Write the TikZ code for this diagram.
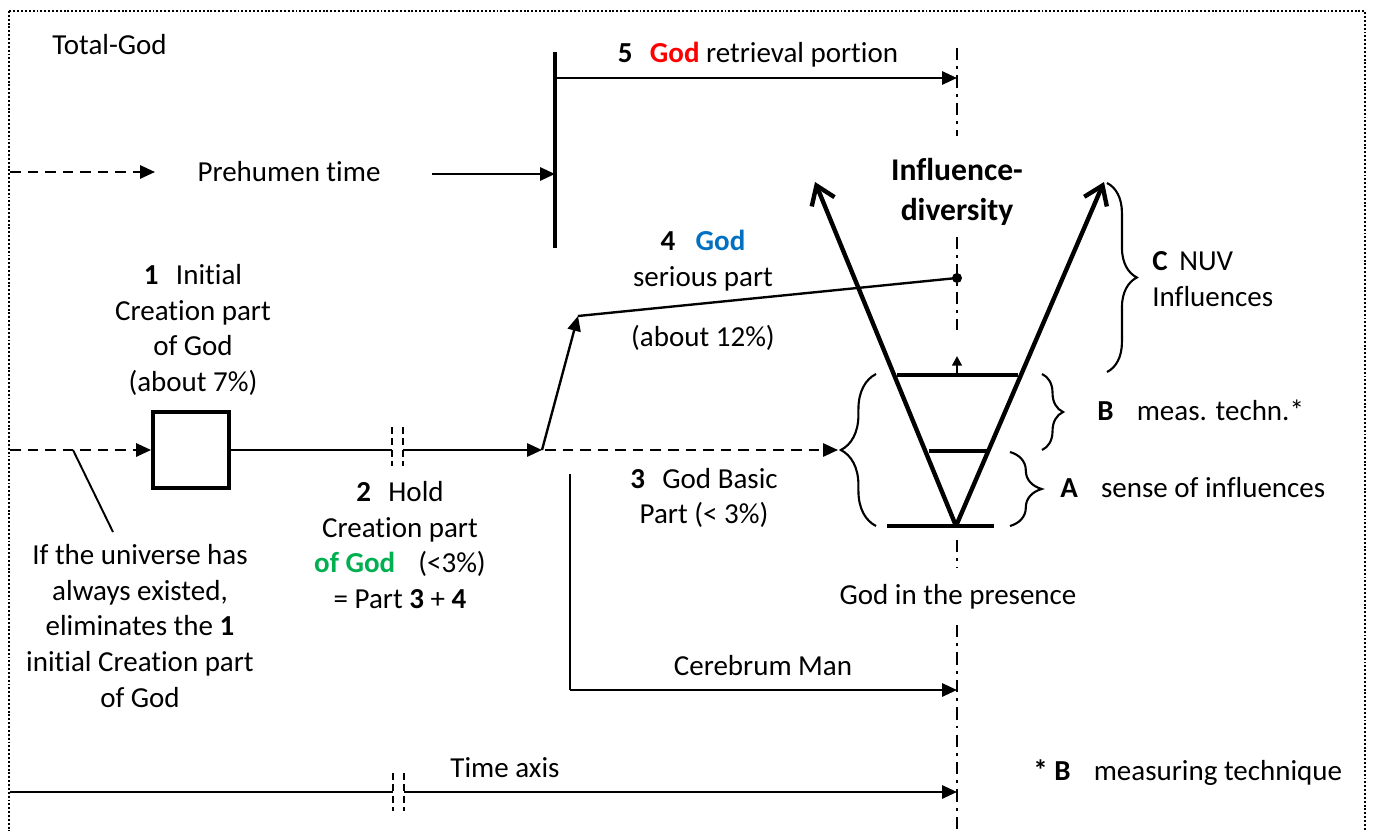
\documentclass[tikz,border=0pt]{standalone}
\usepackage{fontspec}
\setmainfont{Carlito}[Ligatures=NoCommon]
\usetikzlibrary{arrows.meta,decorations.pathreplacing}
\definecolor{godred}{RGB}{255,0,0}
\definecolor{godblue}{RGB}{0,112,192}
\definecolor{godgreen}{RGB}{0,176,80}
\begin{document}
\begin{tikzpicture}[x=0.02cm,y=-0.02cm,
  txt/.style={font=\fontsize{16.5}{20.4}\selectfont, inner sep=0pt, align=center},
  ltxt/.style={font=\fontsize{16.5}{20.4}\selectfont, inner sep=0pt, align=left, anchor=west},
  tri/.style={-{Triangle[length=8.5pt,width=7.5pt]}},
  ln/.style={line width=1.35pt},
  dsh/.style={dash pattern=on 6pt off 4pt},
  axisln/.style={line width=1.2pt, dash pattern=on 7pt off 3.5pt on 1.6pt off 3.5pt},
  vee/.style={line width=2.5pt, -{Straight Barb[length=10pt,width=14pt,line width=2.5pt]}},
  rung/.style={line width=2.5pt},
  brk/.style={line width=1pt, dash pattern=on 4pt off 2.5pt},
  brc/.style={decorate, decoration={brace, amplitude=#1}, line width=1.2pt},
  box/.style={draw, line width=2.2pt, minimum width=76*0.02cm, minimum height=76*0.02cm, inner sep=0pt}
]
\useasboundingbox (0,0) rectangle (1373,831);
% border
\draw[line width=1.5pt, dash pattern=on 1.1pt off 1.1pt] (9,11) rectangle (1365,900);

% dash-dot axis of the present
\coordinate (a1) at (957,48);  \coordinate (a2) at (957,136);
\coordinate (a3) at (957,237); \coordinate (a4) at (957,330);
\coordinate (a5) at (957,540); \coordinate (a6) at (957,568);
\coordinate (a7) at (957,625); \coordinate (a8) at (957,831);
\draw[axisln] (a1) -- (a2);
\draw[axisln] (a3) -- (a4);
\draw[axisln] (a5) -- (a6);
\draw[axisln] (a7) -- (a8);

% texts
\node[ltxt] (total) at (52,45) {Total-God};
\node[txt] (pre) at (289,172) {Prehumen time};
\node[txt] (five) at (758,55) {\textbf{5}\hspace{0.6em}\textbf{\color{godred}God} retrieval portion};
\node[font=\fontsize{18}{22.7}\selectfont\bfseries, inner sep=0pt, align=center] (infl) at (957,192) {Influence-\\diversity};
\node[txt] (four) at (703,261) {\textbf{4}\hspace{0.7em}\textbf{\color{godblue}God}\\serious part};
\node[txt] (twelve) at (703,338) {(about 12\%)};
\node[txt] (one) at (193,330) {\textbf{1}\hspace{0.6em}Initial\\Creation part\\of God\\(about 7\%)};
\node[txt] (two) at (400,545) {\textbf{2}\hspace{0.6em}Hold\\Creation part\\\textbf{\color{godgreen}of God}\hspace{0.8em}(<3\%)\\= Part \textbf{3} + \textbf{4}};
\node[txt] (three) at (704,498) {\textbf{3}\hspace{0.6em}God Basic\\Part (< 3\%)};
\node[txt] (ifu) at (140,626) {If the universe has\\always existed,\\eliminates the \textbf{1}\\initial Creation part\\of God};
\node[txt] (cere) at (763,666) {Cerebrum Man};
\node[txt] (pres) at (958,597) {God in the presence};
\node[txt] (time) at (505,768) {Time axis};
\node[ltxt] (meas) at (1033,773) {\textbf{* B}\hspace{0.8em}measuring technique};
\node[ltxt] (lc) at (1152,279) {\textbf{C}\hspace{0.4em}NUV\\Influences};
\node[ltxt] (lb) at (1097,410) {\textbf{B}\hspace{0.8em}meas. techn.*};
\node[ltxt] (la) at (1060,488) {\textbf{A}\hspace{0.8em}sense of influences};

% prehumen row
\coordinate (p0) at (10,172);
\coordinate (p1) at (155,172);
\coordinate (p2) at (432,174);
\draw[ln,dsh,tri] (p0) -- (p1);
\coordinate (v5t) at (555,52);
\coordinate (v5b) at (555,248);
\coordinate (v5a) at (555,174);
\draw[line width=2pt] (v5t) -- (v5b);
\draw[ln,tri] (p2) -- (v5a);
\coordinate (r5) at (555,78);
\coordinate (r5e) at (957,78);
\draw[ln,tri] (r5) -- (r5e);

% main creation row
\node[box] (b1) at (191,450) {};
\coordinate (m0) at (10,450);
\draw[ln,dsh,tri] (m0) -- (b1.west);
\coordinate (c1) at (73,450);
\coordinate (c2) at (113,532);
\draw[line width=1.1pt] (c1) -- (c2);
\coordinate (g1) at (392,450);
\coordinate (g2) at (403,450);
\coordinate (m3) at (542,450);
\draw[ln] (b1.east) -- (g1);
\draw[ln,tri] (g2) -- (m3);
\draw[brk] (392,427) -- (392,466);
\draw[brk] (403,427) -- (403,466);
\coordinate (m4) at (578,316);
\draw[ln,tri] (m3) -- (m4);
\coordinate (dotp) at (957,278);
\draw[ln] (m4) -- (dotp);
\fill (dotp) circle[radius=5];
\coordinate (m5) at (838,450);
\draw[ln,dsh,tri] (545,450) -- (m5);

% cerebrum
\coordinate (cb0) at (570,474);
\coordinate (cb1) at (570,690);
\coordinate (cb2) at (957,690);
\draw[ln] (cb0) -- (cb1);
\draw[ln,tri] (cb1) -- (cb2);

% time axis
\coordinate (t0) at (10,792);
\coordinate (t1) at (393,792);
\coordinate (t2) at (404,792);
\coordinate (t3) at (957,792);
\draw[ln] (t0) -- (t1);
\draw[ln,tri] (t2) -- (t3);
\draw[brk] (393,773) -- (393,811);
\draw[brk] (404,773) -- (404,811);

% V
\coordinate (vx) at (956,526);
\coordinate (vl) at (815,182);
\coordinate (vr) at (1104,182);
\draw[vee] (vx) -- (vl);
\draw[vee] (vx) -- (vr);
\draw[rung] (897,375) -- (1018,375);
\draw[rung] (929,451) -- (987,451);
\draw[rung] (887,526) -- (994,526);
\draw[line width=1.2pt, -{Triangle[length=5.5pt,width=5.5pt]}] (957,375) -- (957,356);

% braces
\draw[brc=20pt] (876,526) -- (876,374);
\draw[brc=12pt] (1042,374) -- (1042,450);
\draw[brc=18pt] (1010,452) -- (1010,526);
\draw[brc=17pt] (1107,183) -- (1107,372);
\end{tikzpicture}
\end{document}
